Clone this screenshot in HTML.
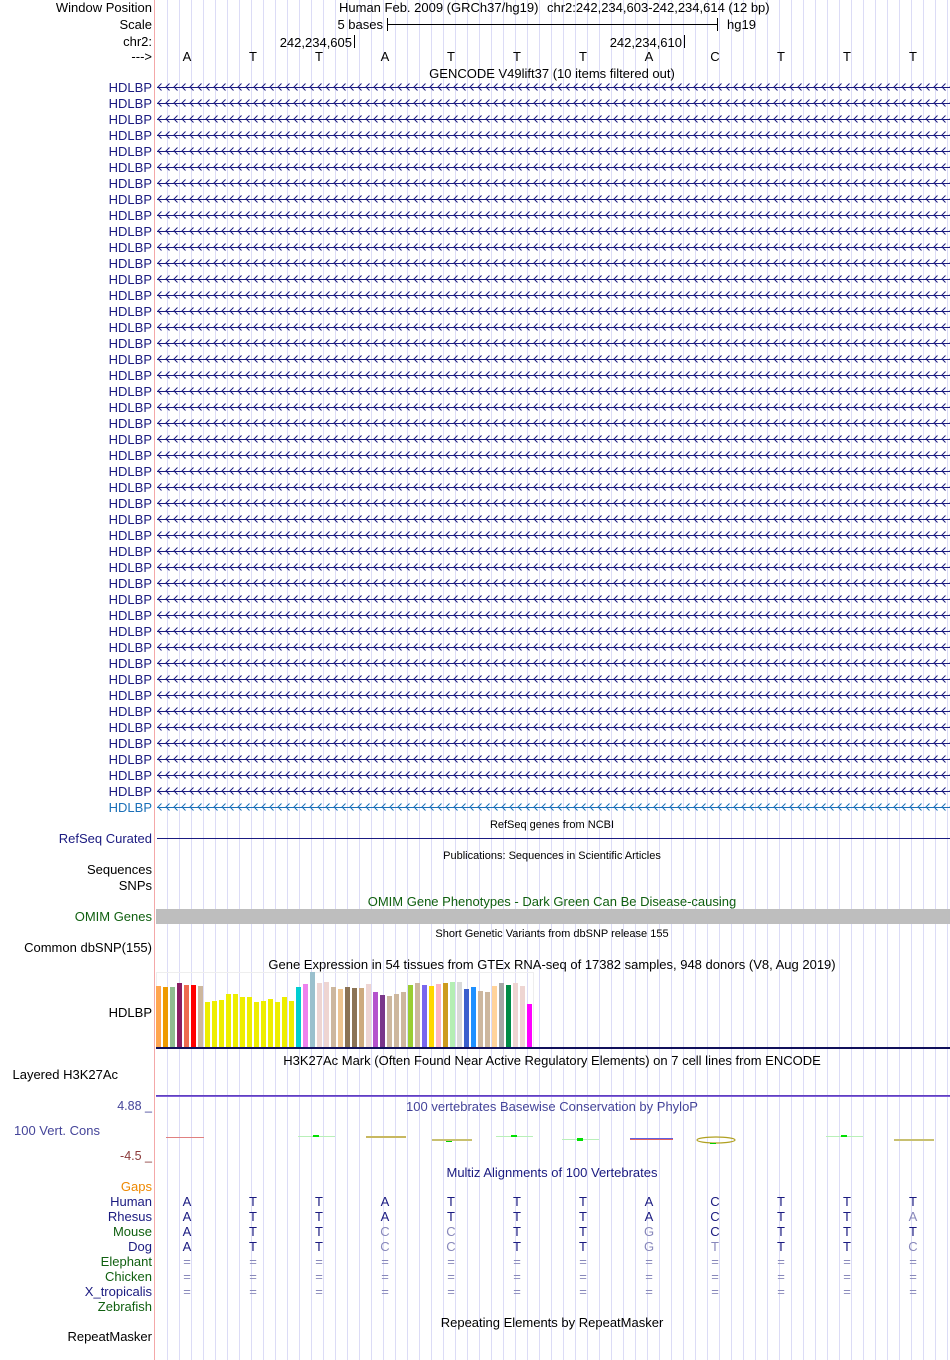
<!DOCTYPE html>
<html><head><meta charset="utf-8"><style>
html,body{margin:0;padding:0;background:#fff;}
svg{display:block;font-family:"Liberation Sans",sans-serif;}
</style></head><body>
<svg width="950" height="1360" viewBox="0 0 950 1360" xmlns="http://www.w3.org/2000/svg">
<defs>
<pattern id="grid" x="167" y="0" width="12" height="10" patternUnits="userSpaceOnUse">
<rect x="0" y="0" width="1" height="10" fill="#dcdcf6"/>
</pattern>
<pattern id="chev" x="157" y="0" width="8" height="16" patternUnits="userSpaceOnUse">
<path d="M4.5,3.5 L1,7 L4.5,10.5" fill="none" stroke="#1a1a80" stroke-width="1"/>
</pattern>
<pattern id="chev2" x="157" y="0" width="8" height="16" patternUnits="userSpaceOnUse">
<path d="M4.5,3.5 L1,7 L4.5,10.5" fill="none" stroke="#1a6fb8" stroke-width="1"/>
</pattern>
</defs>
<rect x="156" y="0" width="794" height="1360" fill="url(#grid)"/>
<rect x="154" y="0" width="1" height="1360" fill="#f4a8a8"/>

<g font-size="13" fill="#000" text-anchor="end">
<text x="152" y="12">Window Position</text>
<text x="152" y="29">Scale</text>
<text x="152" y="46">chr2:</text>
<text x="152" y="61">---&gt;</text>
</g>
<text x="339" y="12" font-size="13">Human Feb. 2009 (GRCh37/hg19)</text>
<text x="547" y="12" font-size="13">chr2:242,234,603-242,234,614 (12 bp)</text>
<text x="383" y="29" font-size="13" text-anchor="end">5 bases</text>
<rect x="387" y="18" width="1" height="13" fill="#000"/>
<rect x="387" y="24" width="331" height="1" fill="#000"/>
<rect x="717" y="18" width="1" height="13" fill="#000"/>
<text x="727" y="29" font-size="13">hg19</text>
<text x="352" y="47" font-size="13" text-anchor="end">242,234,605</text>
<rect x="354" y="35" width="1" height="13" fill="#000"/>
<text x="682" y="47" font-size="13" text-anchor="end">242,234,610</text>
<rect x="684" y="35" width="1" height="13" fill="#000"/>
<g font-size="13" text-anchor="middle" fill="#000">
<text x="187" y="61">A</text><text x="253" y="61">T</text><text x="319" y="61">T</text><text x="385" y="61">A</text><text x="451" y="61">T</text><text x="517" y="61">T</text><text x="583" y="61">T</text><text x="649" y="61">A</text><text x="715" y="61">C</text><text x="781" y="61">T</text><text x="847" y="61">T</text><text x="913" y="61">T</text>
</g>
<text x="552" y="78" font-size="13" text-anchor="middle">GENCODE V49lift37 (10 items filtered out)</text>

<rect x="157" y="80" width="793" height="720" fill="url(#chev)"/>
<rect x="157" y="800" width="793" height="16" fill="url(#chev2)"/>
<g fill="#1a1a80">
<rect x="157" y="87" width="793" height="1"/><rect x="157" y="103" width="793" height="1"/><rect x="157" y="119" width="793" height="1"/><rect x="157" y="135" width="793" height="1"/><rect x="157" y="151" width="793" height="1"/><rect x="157" y="167" width="793" height="1"/><rect x="157" y="183" width="793" height="1"/><rect x="157" y="199" width="793" height="1"/><rect x="157" y="215" width="793" height="1"/><rect x="157" y="231" width="793" height="1"/><rect x="157" y="247" width="793" height="1"/><rect x="157" y="263" width="793" height="1"/><rect x="157" y="279" width="793" height="1"/><rect x="157" y="295" width="793" height="1"/><rect x="157" y="311" width="793" height="1"/><rect x="157" y="327" width="793" height="1"/><rect x="157" y="343" width="793" height="1"/><rect x="157" y="359" width="793" height="1"/><rect x="157" y="375" width="793" height="1"/><rect x="157" y="391" width="793" height="1"/><rect x="157" y="407" width="793" height="1"/><rect x="157" y="423" width="793" height="1"/><rect x="157" y="439" width="793" height="1"/><rect x="157" y="455" width="793" height="1"/><rect x="157" y="471" width="793" height="1"/><rect x="157" y="487" width="793" height="1"/><rect x="157" y="503" width="793" height="1"/><rect x="157" y="519" width="793" height="1"/><rect x="157" y="535" width="793" height="1"/><rect x="157" y="551" width="793" height="1"/><rect x="157" y="567" width="793" height="1"/><rect x="157" y="583" width="793" height="1"/><rect x="157" y="599" width="793" height="1"/><rect x="157" y="615" width="793" height="1"/><rect x="157" y="631" width="793" height="1"/><rect x="157" y="647" width="793" height="1"/><rect x="157" y="663" width="793" height="1"/><rect x="157" y="679" width="793" height="1"/><rect x="157" y="695" width="793" height="1"/><rect x="157" y="711" width="793" height="1"/><rect x="157" y="727" width="793" height="1"/><rect x="157" y="743" width="793" height="1"/><rect x="157" y="759" width="793" height="1"/><rect x="157" y="775" width="793" height="1"/><rect x="157" y="791" width="793" height="1"/>
</g>
<rect x="157" y="807" width="793" height="1" fill="#1a6fb8"/>
<g font-size="13" fill="#1a1a80" text-anchor="end">
<text x="152" y="92">HDLBP</text><text x="152" y="108">HDLBP</text><text x="152" y="124">HDLBP</text><text x="152" y="140">HDLBP</text><text x="152" y="156">HDLBP</text><text x="152" y="172">HDLBP</text><text x="152" y="188">HDLBP</text><text x="152" y="204">HDLBP</text><text x="152" y="220">HDLBP</text><text x="152" y="236">HDLBP</text><text x="152" y="252">HDLBP</text><text x="152" y="268">HDLBP</text><text x="152" y="284">HDLBP</text><text x="152" y="300">HDLBP</text><text x="152" y="316">HDLBP</text><text x="152" y="332">HDLBP</text><text x="152" y="348">HDLBP</text><text x="152" y="364">HDLBP</text><text x="152" y="380">HDLBP</text><text x="152" y="396">HDLBP</text><text x="152" y="412">HDLBP</text><text x="152" y="428">HDLBP</text><text x="152" y="444">HDLBP</text><text x="152" y="460">HDLBP</text><text x="152" y="476">HDLBP</text><text x="152" y="492">HDLBP</text><text x="152" y="508">HDLBP</text><text x="152" y="524">HDLBP</text><text x="152" y="540">HDLBP</text><text x="152" y="556">HDLBP</text><text x="152" y="572">HDLBP</text><text x="152" y="588">HDLBP</text><text x="152" y="604">HDLBP</text><text x="152" y="620">HDLBP</text><text x="152" y="636">HDLBP</text><text x="152" y="652">HDLBP</text><text x="152" y="668">HDLBP</text><text x="152" y="684">HDLBP</text><text x="152" y="700">HDLBP</text><text x="152" y="716">HDLBP</text><text x="152" y="732">HDLBP</text><text x="152" y="748">HDLBP</text><text x="152" y="764">HDLBP</text><text x="152" y="780">HDLBP</text><text x="152" y="796">HDLBP</text>
<text x="152" y="812" fill="#1a6fb8">HDLBP</text>
</g>

<text x="552" y="828" font-size="11" text-anchor="middle">RefSeq genes from NCBI</text>
<text x="152" y="843" font-size="13" fill="#1a1a80" text-anchor="end">RefSeq Curated</text>
<rect x="157" y="838" width="793" height="1" fill="#1a1a80"/>
<text x="552" y="859" font-size="11" text-anchor="middle">Publications: Sequences in Scientific Articles</text>
<text x="152" y="874" font-size="13" text-anchor="end">Sequences</text>
<text x="152" y="890" font-size="13" text-anchor="end">SNPs</text>
<text x="552" y="906" font-size="13" fill="#106010" text-anchor="middle">OMIM Gene Phenotypes - Dark Green Can Be Disease-causing</text>
<text x="152" y="921" font-size="13" fill="#106010" text-anchor="end">OMIM Genes</text>
<rect x="156" y="909" width="794" height="15" fill="#bebebe"/>
<text x="552" y="937" font-size="11" text-anchor="middle">Short Genetic Variants from dbSNP release 155</text>
<text x="152" y="952" font-size="13" text-anchor="end">Common dbSNP(155)</text>
<text x="552" y="969" font-size="13" text-anchor="middle">Gene Expression in 54 tissues from GTEx RNA-seq of 17382 samples, 948 donors (V8, Aug 2019)</text>
<text x="152" y="1017" font-size="13" text-anchor="end">HDLBP</text>
<rect x="156.5" y="972.5" width="377" height="75" fill="none" stroke="#eeeeee" stroke-width="1"/>
<g>
<rect x="156" y="986" width="5" height="61" fill="#FFA54F"/>
<rect x="163" y="987" width="5" height="60" fill="#EE9A00"/>
<rect x="170" y="987" width="5" height="60" fill="#8FBC8F"/>
<rect x="177" y="983" width="5" height="64" fill="#8B1C62"/>
<rect x="184" y="985" width="5" height="62" fill="#EE6A50"/>
<rect x="191" y="985" width="5" height="62" fill="#FF0000"/>
<rect x="198" y="986" width="5" height="61" fill="#CDB79E"/>
<rect x="205" y="1002" width="5" height="45" fill="#EEEE00"/>
<rect x="212" y="1001" width="5" height="46" fill="#EEEE00"/>
<rect x="219" y="1000" width="5" height="47" fill="#EEEE00"/>
<rect x="226" y="994" width="5" height="53" fill="#EEEE00"/>
<rect x="233" y="994" width="5" height="53" fill="#EEEE00"/>
<rect x="240" y="997" width="5" height="50" fill="#EEEE00"/>
<rect x="247" y="997" width="5" height="50" fill="#EEEE00"/>
<rect x="254" y="1002" width="5" height="45" fill="#EEEE00"/>
<rect x="261" y="1001" width="5" height="46" fill="#EEEE00"/>
<rect x="268" y="999" width="5" height="48" fill="#EEEE00"/>
<rect x="275" y="1002" width="5" height="45" fill="#EEEE00"/>
<rect x="282" y="997" width="5" height="50" fill="#EEEE00"/>
<rect x="289" y="1001" width="5" height="46" fill="#EEEE00"/>
<rect x="296" y="987" width="5" height="60" fill="#00CED1"/>
<rect x="303" y="984" width="5" height="63" fill="#EE82EE"/>
<rect x="310" y="972" width="5" height="75" fill="#9AC0CD"/>
<rect x="317" y="983" width="5" height="64" fill="#EED5D2"/>
<rect x="324" y="982" width="5" height="65" fill="#EED5D2"/>
<rect x="331" y="987" width="5" height="60" fill="#CDB79E"/>
<rect x="338" y="989" width="5" height="58" fill="#EEC591"/>
<rect x="345" y="987" width="5" height="60" fill="#8B7355"/>
<rect x="352" y="988" width="5" height="59" fill="#8B7355"/>
<rect x="359" y="988" width="5" height="59" fill="#CDAA7D"/>
<rect x="366" y="984" width="5" height="63" fill="#EED5D2"/>
<rect x="373" y="992" width="5" height="55" fill="#B452CD"/>
<rect x="380" y="995" width="5" height="52" fill="#7A378B"/>
<rect x="387" y="996" width="5" height="51" fill="#CDB79E"/>
<rect x="394" y="994" width="5" height="53" fill="#CDB79E"/>
<rect x="401" y="992" width="5" height="55" fill="#CDB79E"/>
<rect x="408" y="985" width="5" height="62" fill="#9ACD32"/>
<rect x="415" y="983" width="5" height="64" fill="#CDB79E"/>
<rect x="422" y="985" width="5" height="62" fill="#7A67EE"/>
<rect x="429" y="986" width="5" height="61" fill="#FFD700"/>
<rect x="436" y="984" width="5" height="63" fill="#FFB6C1"/>
<rect x="443" y="983" width="5" height="64" fill="#CD9B1D"/>
<rect x="450" y="982" width="5" height="65" fill="#B4EEB4"/>
<rect x="457" y="982" width="5" height="65" fill="#D9D9D9"/>
<rect x="464" y="989" width="5" height="58" fill="#3A5FCD"/>
<rect x="471" y="987" width="5" height="60" fill="#1E90FF"/>
<rect x="478" y="991" width="5" height="56" fill="#CDB79E"/>
<rect x="485" y="992" width="5" height="55" fill="#CDB79E"/>
<rect x="492" y="986" width="5" height="61" fill="#FFD39B"/>
<rect x="499" y="983" width="5" height="64" fill="#A6A6A6"/>
<rect x="506" y="985" width="5" height="62" fill="#008B45"/>
<rect x="513" y="983" width="5" height="64" fill="#EED5D2"/>
<rect x="520" y="986" width="5" height="61" fill="#EED5D2"/>
<rect x="527" y="1004" width="5" height="43" fill="#FF00FF"/>
</g>
<rect x="156" y="1047" width="794" height="2" fill="#10105a"/>

<text x="552" y="1065" font-size="13" text-anchor="middle">H3K27Ac Mark (Often Found Near Active Regulatory Elements) on 7 cell lines from ENCODE</text>
<text x="118" y="1079" font-size="13" text-anchor="end">Layered H3K27Ac</text>
<rect x="156" y="1095" width="794" height="1" fill="#6040c0"/>
<rect x="156" y="1096" width="794" height="1" fill="#8060d8"/>

<text x="552" y="1111" font-size="13" fill="#444499" text-anchor="middle">100 vertebrates Basewise Conservation by PhyloP</text>
<text x="152" y="1110" font-size="12.5" fill="#444499" text-anchor="end">4.88 _</text>
<text x="100" y="1135" font-size="13" fill="#444499" text-anchor="end">100 Vert. Cons</text>
<text x="152" y="1160" font-size="12.5" fill="#8b3a3a" text-anchor="end">-4.5 _</text>
<rect x="166" y="1137" width="38" height="1" fill="#e08080"/>
<rect x="298" y="1136" width="37" height="1" fill="#b8f0b8"/><rect x="313" y="1135" width="6" height="2" fill="#00e000"/>
<rect x="366" y="1136" width="40" height="2" fill="#c8b860"/>
<rect x="432" y="1139" width="40" height="2" fill="#c8c070"/><rect x="446" y="1141" width="6" height="1" fill="#00d000"/>
<rect x="496" y="1136" width="37" height="1" fill="#b8f0b8"/><rect x="511" y="1135" width="6" height="2" fill="#00e000"/>
<rect x="562" y="1139" width="37" height="1" fill="#b8f0b8"/><rect x="577" y="1138" width="6" height="3" fill="#00e000"/>
<rect x="630" y="1138" width="43" height="1" fill="#6060e0"/><rect x="630" y="1139" width="43" height="1" fill="#e06060"/>
<ellipse cx="716" cy="1140" rx="19" ry="3" fill="none" stroke="#b0a020" stroke-width="1.2"/><rect x="710" y="1143" width="6" height="1" fill="#00d000"/>
<rect x="826" y="1136" width="37" height="1" fill="#b8f0b8"/><rect x="841" y="1135" width="6" height="2" fill="#00e000"/>
<rect x="894" y="1139" width="40" height="2" fill="#c8c070"/>

<text x="552" y="1177" font-size="13" fill="#1a1a80" text-anchor="middle">Multiz Alignments of 100 Vertebrates</text>
<g font-size="13" text-anchor="end">
<text x="152" y="1191" fill="#ee8800">Gaps</text>
<text x="152" y="1206" fill="#1a1a80">Human</text>
<text x="152" y="1221" fill="#1a1a80">Rhesus</text>
<text x="152" y="1236" fill="#106010">Mouse</text>
<text x="152" y="1251" fill="#1a1a80">Dog</text>
<text x="152" y="1266" fill="#106010">Elephant</text>
<text x="152" y="1281" fill="#106010">Chicken</text>
<text x="152" y="1296" fill="#1a1a80">X_tropicalis</text>
<text x="152" y="1311" fill="#106010">Zebrafish</text>
<text x="152" y="1341" fill="#000">RepeatMasker</text>
</g>
<g font-size="13" text-anchor="middle" fill="#1a1a80">
<text x="187" y="1206">A</text><text x="253" y="1206">T</text><text x="319" y="1206">T</text><text x="385" y="1206">A</text><text x="451" y="1206">T</text><text x="517" y="1206">T</text><text x="583" y="1206">T</text><text x="649" y="1206">A</text><text x="715" y="1206">C</text><text x="781" y="1206">T</text><text x="847" y="1206">T</text><text x="913" y="1206">T</text>
<text x="187" y="1221">A</text><text x="253" y="1221">T</text><text x="319" y="1221">T</text><text x="385" y="1221">A</text><text x="451" y="1221">T</text><text x="517" y="1221">T</text><text x="583" y="1221">T</text><text x="649" y="1221">A</text><text x="715" y="1221">C</text><text x="781" y="1221">T</text><text x="847" y="1221">T</text><text x="913" y="1221" fill="#8888bb">A</text>
<text x="187" y="1236">A</text><text x="253" y="1236">T</text><text x="319" y="1236">T</text><text x="385" y="1236" fill="#8888bb">C</text><text x="451" y="1236" fill="#8888bb">C</text><text x="517" y="1236">T</text><text x="583" y="1236">T</text><text x="649" y="1236" fill="#8888bb">G</text><text x="715" y="1236">C</text><text x="781" y="1236">T</text><text x="847" y="1236">T</text><text x="913" y="1236">T</text>
<text x="187" y="1251">A</text><text x="253" y="1251">T</text><text x="319" y="1251">T</text><text x="385" y="1251" fill="#8888bb">C</text><text x="451" y="1251" fill="#8888bb">C</text><text x="517" y="1251">T</text><text x="583" y="1251">T</text><text x="649" y="1251" fill="#8888bb">G</text><text x="715" y="1251" fill="#8888bb">T</text><text x="781" y="1251">T</text><text x="847" y="1251">T</text><text x="913" y="1251" fill="#8888bb">C</text>
</g>
<g font-size="13" text-anchor="middle" fill="#8888bb">
<text x="187" y="1266">=</text><text x="253" y="1266">=</text><text x="319" y="1266">=</text><text x="385" y="1266">=</text><text x="451" y="1266">=</text><text x="517" y="1266">=</text><text x="583" y="1266">=</text><text x="649" y="1266">=</text><text x="715" y="1266">=</text><text x="781" y="1266">=</text><text x="847" y="1266">=</text><text x="913" y="1266">=</text>
<text x="187" y="1281">=</text><text x="253" y="1281">=</text><text x="319" y="1281">=</text><text x="385" y="1281">=</text><text x="451" y="1281">=</text><text x="517" y="1281">=</text><text x="583" y="1281">=</text><text x="649" y="1281">=</text><text x="715" y="1281">=</text><text x="781" y="1281">=</text><text x="847" y="1281">=</text><text x="913" y="1281">=</text>
<text x="187" y="1296">=</text><text x="253" y="1296">=</text><text x="319" y="1296">=</text><text x="385" y="1296">=</text><text x="451" y="1296">=</text><text x="517" y="1296">=</text><text x="583" y="1296">=</text><text x="649" y="1296">=</text><text x="715" y="1296">=</text><text x="781" y="1296">=</text><text x="847" y="1296">=</text><text x="913" y="1296">=</text>
</g>
<text x="552" y="1327" font-size="13" text-anchor="middle">Repeating Elements by RepeatMasker</text>
</svg>
</body></html>
